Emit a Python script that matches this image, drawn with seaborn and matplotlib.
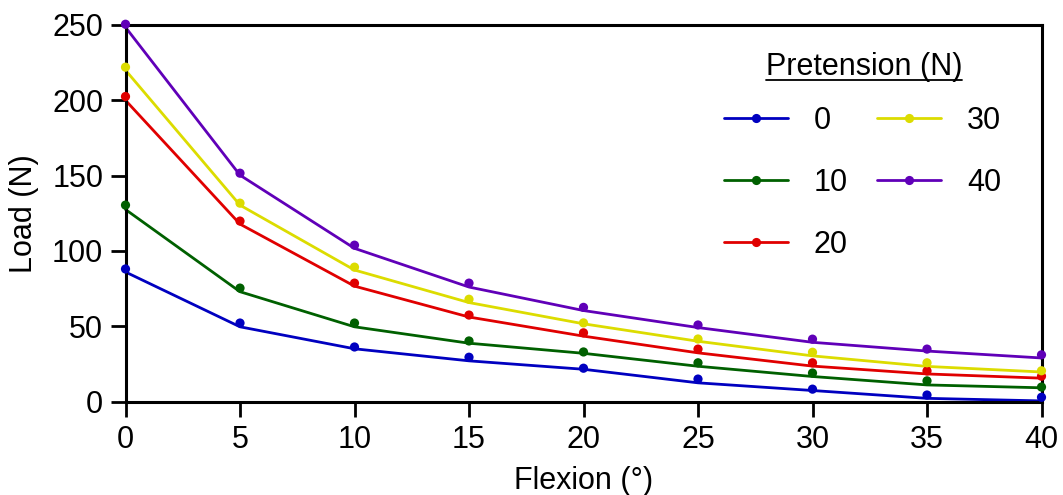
import numpy as np
import pandas as pd
import matplotlib
matplotlib.use("Agg")
import matplotlib.pyplot as plt
from matplotlib.lines import Line2D
import seaborn as sns

# Flexion angle (degrees) and pretension levels (N)
flexion = [0, 5, 10, 15, 20, 25, 30, 35, 40]
pretension = [0, 10, 20, 30, 40]

# Measured load (N) at each flexion angle, per pretension level
measured_0 = [88.0, 52.1, 36.2, 29.4, 22.1, 14.9, 8.2, 4.3, 2.8]
measured_10 = [130.4, 75.3, 52.1, 40.2, 32.9, 25.7, 18.9, 13.7, 9.6]
measured_20 = [202.5, 119.8, 78.6, 57.4, 45.6, 34.8, 25.7, 20.3, 16.8]
measured_30 = [222.0, 131.7, 89.2, 67.9, 52.2, 41.5, 32.7, 25.7, 20.4]
measured_40 = [250.5, 151.6, 103.8, 78.6, 62.5, 50.8, 41.4, 34.8, 31.0]

# Fitted load (N) at each flexion angle, per pretension level
fit_0 = [86.0, 49.6, 35.0, 27.0, 21.4, 12.4, 7.3, 2.1, 0.4]
fit_10 = [127.5, 72.9, 49.6, 38.7, 32.0, 23.4, 16.6, 11.0, 9.1]
fit_20 = [200.0, 117.8, 76.6, 56.1, 43.4, 32.3, 23.5, 18.3, 15.5]
fit_30 = [220.0, 130.4, 87.3, 65.7, 51.6, 40.0, 30.3, 23.3, 19.6]
fit_40 = [248.5, 150.3, 101.7, 76.0, 60.4, 49.1, 39.3, 33.5, 28.9]

measured = [measured_0, measured_10, measured_20, measured_30, measured_40]
fitted = [fit_0, fit_10, fit_20, fit_30, fit_40]

x_ticks = [0, 5, 10, 15, 20, 25, 30, 35, 40]
y_ticks = [0, 50, 100, 150, 200, 250]

colors = ["#0000C0", "#006000", "#E00000", "#DCDC00", "#6000B8"]
labels = [str(p) for p in pretension]

def long_table(series):
    rows = []
    for p, vals in zip(labels, series):
        for x, v in zip(flexion, vals):
            rows.append({"flexion": x, "load": v, "pretension": p})
    return pd.DataFrame(rows)

meas_df = long_table(measured)
fit_df = long_table(fitted)

sns.set_style("ticks")
plt.rcParams["font.family"] = ["Liberation Sans", "DejaVu Sans"]
plt.rcParams["font.size"] = 22
plt.rcParams["text.color"] = "black"
plt.rcParams["axes.labelcolor"] = "black"
plt.rcParams["xtick.color"] = "black"
plt.rcParams["ytick.color"] = "black"

fig = plt.figure(figsize=(10.63, 4.95), dpi=100)
ax = fig.add_axes([125.5 / 1063, 1 - 401.5 / 495, 916 / 1063, 376.5 / 495])

palette = dict(zip(labels, colors))
sns.lineplot(data=fit_df, x="flexion", y="load", hue="pretension",
             palette=palette, linewidth=2.0, legend=False, ax=ax,
             clip_on=False, zorder=2)
sns.scatterplot(data=meas_df, x="flexion", y="load", hue="pretension",
                palette=palette, s=44, edgecolor="none", linewidth=0,
                legend=False, ax=ax, clip_on=False, zorder=3)

ax.set_xlim(0, 40)
ax.set_ylim(0, 250)
ax.set_xticks(x_ticks)
ax.set_yticks(y_ticks)
ax.set_xlabel("Flexion (°)", fontsize=22, labelpad=8, color="black")
ax.set_ylabel("Load (N)", fontsize=22, labelpad=9.5, color="black")
ax.tick_params(axis="both", which="major", direction="out", length=10.5,
               width=2.0, labelsize=22, color="black", labelcolor="black")
ax.tick_params(axis="x", pad=6.5)
ax.tick_params(axis="y", pad=5.5)
for side in ["left", "bottom", "top", "right"]:
    ax.spines[side].set_visible(True)
    ax.spines[side].set_linewidth(2.2)
    ax.spines[side].set_color("black")

handles = [Line2D([0], [0], color=c, lw=2.0, marker="o", markersize=6.6,
                  markeredgewidth=0) for c in colors]
leg = ax.legend(handles, labels, ncol=2, frameon=False, fontsize=22,
                loc="upper left", bbox_to_anchor=(724 / 1063, 1 - 106 / 495),
                bbox_transform=fig.transFigure, borderaxespad=0, borderpad=0,
                handlelength=2.1, handletextpad=0.84, columnspacing=0.95,
                labelspacing=1.05, numpoints=1, labelcolor="black")

title = fig.text(864 / 1063, 1 - 75 / 495, "Pretension (N)", ha="center",
                 va="baseline", fontsize=22, color="black")
fig.canvas.draw()
bb = title.get_window_extent().transformed(fig.transFigure.inverted())
uy = 1 - 80 / 495
fig.add_artist(Line2D([bb.x0, bb.x1], [uy, uy], transform=fig.transFigure,
                      color="black", lw=1.3))

fig.savefig("out.png", dpi=100)
